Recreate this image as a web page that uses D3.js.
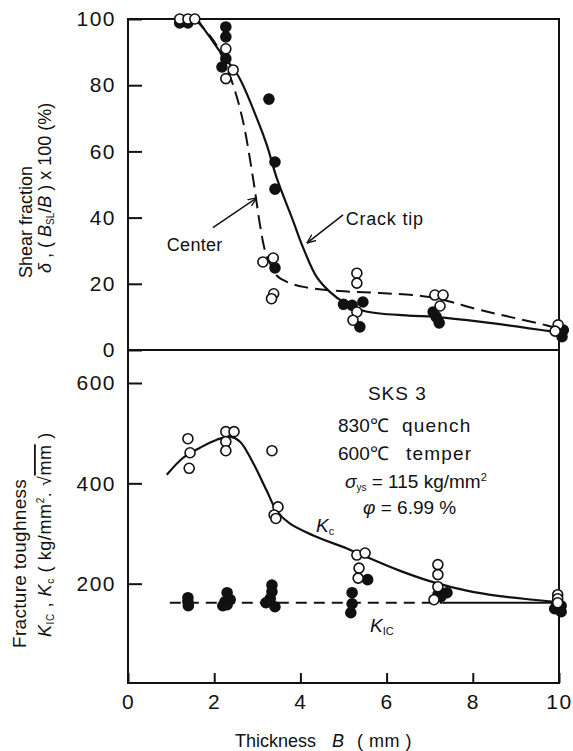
<!DOCTYPE html>
<html>
<head>
<meta charset="utf-8">
<script src="https://cdn.jsdelivr.net/npm/d3@7"></script>
<style>
  body { margin: 0; background: #fff; }
  svg { display: block; font-family: "Liberation Sans", Arial, sans-serif; }
  .tick text { font-size: 21px; letter-spacing: 1.5px; fill: #111; }
</style>
</head>
<body>
<svg id="chart" width="573" height="751"></svg>
<script>
// ---- data (thickness in mm) ----
const xTicks = [0, 2, 4, 6, 8, 10];
const shearTicks = [0, 20, 40, 60, 80, 100];
const toughTicks = [200, 400, 600];

// shear fraction, open circles (center) and filled circles (crack tip)
const centerPts = [[1.2, 100], [1.39, 100], [1.55, 100], [2.27, 91], [2.27, 82], [2.44, 84.6],
  [3.13, 26.6], [3.37, 27.8], [3.38, 17], [3.33, 15.5], [5.31, 23.2], [5.31, 20.2],
  [5.31, 11.5], [5.22, 9], [7.12, 16.6], [7.31, 16.6], [7.24, 13.3], [9.98, 7.6], [9.91, 5.7]];
const crackPts = [[1.2, 98.8], [1.39, 98.8], [2.27, 97.6], [2.27, 94.6], [2.27, 88], [2.18, 85.5],
  [3.27, 75.8], [3.41, 56.8], [3.41, 48.6], [3.41, 24.8], [5.0, 13.8], [5.2, 13.5], [5.45, 14.5],
  [5.38, 7], [7.08, 11.5], [7.15, 10], [7.22, 8.2], [10.1, 6], [10.07, 4]];

// hand-drawn trend curves
const centerCurve = [[1.55, 100], [1.9, 95], [2.1, 91], [2.44, 80], [2.67, 69], [2.9, 52], [3.06, 38],
  [3.18, 30], [3.3, 26], [3.45, 22.5], [3.7, 20.5], [4.1, 19], [4.9, 17.8], [5.85, 17.2], [7.0, 16],
  [8.2, 12], [9.7, 7.5], [10, 6.5]];
const crackCurve = [[1.6, 100], [1.9, 94.5], [2.2, 89], [2.55, 83], [2.99, 70], [3.22, 62], [3.45, 52],
  [3.83, 39], [4.06, 31], [4.38, 22], [4.69, 17.5], [5.0, 14.5], [5.5, 11.7], [6.5, 10.4], [7.1, 10],
  [8.2, 8.5], [9.9, 5.5]];

// fracture toughness: Kc open circles, KIc filled circles
const kcPts = [[1.39, 489], [1.44, 461], [1.42, 430], [2.27, 503], [2.46, 503], [2.27, 483], [2.27, 465],
  [3.34, 465], [3.48, 353], [3.39, 337], [3.43, 330], [5.31, 257], [5.5, 261], [5.36, 231],
  [5.34, 211], [7.19, 238], [7.19, 218], [7.19, 194], [7.1, 168], [9.97, 178], [9.97, 170], [9.97, 162]];
const kicPts = [[1.39, 172], [1.39, 164], [1.4, 156], [2.25, 164], [2.3, 182], [2.37, 168], [2.2, 156],
  [2.3, 158], [3.34, 197], [3.34, 184], [3.3, 170], [3.2, 162], [3.41, 154], [5.2, 182], [5.2, 160],
  [5.17, 142], [5.56, 208], [7.19, 178], [7.4, 182], [7.26, 174], [9.9, 150], [10.05, 156],
  [10.05, 144], [9.95, 160]];
const kcCurve = [[0.9, 417], [1.28, 451], [1.67, 471], [2.06, 487], [2.37, 493], [2.6, 483], [2.9, 441],
  [3.22, 385], [3.45, 345], [3.75, 320], [4.3, 296], [5.08, 270], [5.38, 259], [6.3, 226], [7.08, 203],
  [7.86, 186], [8.63, 175], [9.4, 168], [9.9, 164]];
const kicDashed = [[0.97, 162], [7.3, 162]];
const kicSolid = [[7.3, 162], [10, 162]];

// ---- layout ----
const svg = d3.select("#chart");
const x = d3.scaleLinear([0, 10], [128, 559]);
const yTop = d3.scaleLinear([0, 100], [350, 19]);
const yBot = d3.scaleLinear([0, 600], [684, 383]);
const ink = "#111";

const lineTop = d3.line().x(d => x(d[0])).y(d => yTop(d[1])).curve(d3.curveCatmullRom.alpha(0.5));
const lineBot = d3.line().x(d => x(d[0])).y(d => yBot(d[1])).curve(d3.curveCatmullRom.alpha(0.5));

// frame
svg.append("rect").attr("x", x(0)).attr("y", yTop(100)).attr("width", x(10) - x(0))
  .attr("height", yBot(0) - yTop(100) - 1).attr("fill", "none").attr("stroke", ink).attr("stroke-width", 2);
svg.append("line").attr("x1", x(0)).attr("x2", x(10)).attr("y1", yTop(0)).attr("y2", yTop(0))
  .attr("stroke", ink).attr("stroke-width", 2);

// axes
const gTop = svg.append("g").attr("transform", `translate(${x(0)},0)`)
  .call(d3.axisLeft(yTop).tickValues(shearTicks).tickSize(-14).tickPadding(12));
const gBot = svg.append("g").attr("transform", `translate(${x(0)},0)`)
  .call(d3.axisLeft(yBot).tickValues(toughTicks).tickSize(-14).tickPadding(12));
const gX = svg.append("g").attr("transform", `translate(0,${yBot(0) - 1})`)
  .call(d3.axisBottom(x).tickValues(xTicks).tickSize(-10).tickPadding(11));
[gTop, gBot, gX].forEach(g => {
  g.select(".domain").remove();
  g.selectAll(".tick line").attr("stroke", ink).attr("stroke-width", 2);
  g.selectAll(".tick text").attr("fill", ink);
});

// curves
svg.append("path").attr("d", lineTop(centerCurve)).attr("fill", "none").attr("stroke", ink)
  .attr("stroke-width", 2).attr("stroke-dasharray", "14,7");
svg.append("path").attr("d", lineTop(crackCurve)).attr("fill", "none").attr("stroke", ink)
  .attr("stroke-width", 2.2);
svg.append("path").attr("d", lineBot(kcCurve)).attr("fill", "none").attr("stroke", ink)
  .attr("stroke-width", 2.2);
svg.append("path").attr("d", lineBot(kicDashed)).attr("fill", "none").attr("stroke", ink)
  .attr("stroke-width", 2).attr("stroke-dasharray", "11,7");
svg.append("path").attr("d", lineBot(kicSolid)).attr("fill", "none").attr("stroke", ink)
  .attr("stroke-width", 2);

// markers: filled first, open on top
const dot = (data, yS, open) => svg.append("g").selectAll("circle").data(data).join("circle")
  .attr("cx", d => x(d[0])).attr("cy", d => yS(d[1])).attr("r", 5)
  .attr("fill", open ? "#fff" : ink).attr("stroke", ink).attr("stroke-width", 1.6);
dot(crackPts, yTop, false);
dot(centerPts, yTop, true);
dot(kicPts, yBot, false);
dot(kcPts, yBot, true);

// arrows
svg.append("defs").append("marker").attr("id", "arr").attr("viewBox", "0 0 10 10")
  .attr("refX", 10).attr("refY", 5).attr("markerWidth", 9).attr("markerHeight", 9)
  .attr("orient", "auto").attr("markerUnits", "userSpaceOnUse")
  .append("path").attr("d", "M0,1 L10,5 L0,9").attr("fill", "none").attr("stroke", ink).attr("stroke-width", 1.5);
const arrow = (a, b) => svg.append("line").attr("x1", x(a[0])).attr("y1", yTop(a[1]))
  .attr("x2", x(b[0])).attr("y2", yTop(b[1])).attr("stroke", ink).attr("stroke-width", 1.5)
  .attr("marker-end", "url(#arr)");
arrow([1.97, 37], [2.99, 46]);
arrow([4.99, 40.8], [4.15, 32.3]);

// text
const txt = (px, py, s, size = 18, anchor = "start") => svg.append("text").attr("x", px).attr("y", py)
  .attr("font-size", size).attr("fill", ink).attr("text-anchor", anchor).text(s);
txt(x(0.9), yTop(30), "Center").attr("letter-spacing", 0.3);
txt(x(5.05), yTop(37.8), "Crack tip").attr("letter-spacing", 0.8);

txt(x(6.25), 400, "SKS 3", 19, "middle").attr("letter-spacing", 1);
const ann = (py, a, b, bx) => {
  const t = svg.append("text").attr("y", py).attr("font-size", 19).attr("fill", ink);
  t.append("tspan").attr("x", 338).text(a);
  t.append("tspan").attr("x", bx).attr("letter-spacing", 1.2).text(b);
};
ann(432, "830℃", "quench", 402);
ann(460, "600℃", "temper", 406);
const sy = svg.append("text").attr("x", 345).attr("y", 488).attr("font-size", 19).attr("fill", ink);
sy.append("tspan").attr("font-style", "italic").text("σ");
sy.append("tspan").attr("font-size", 10).attr("dy", 3).text("ys");
sy.append("tspan").attr("dy", -3).text(" = 115 kg/mm");
sy.append("tspan").attr("font-size", 11).attr("dy", -7).text("2");
const ph = svg.append("text").attr("x", 363).attr("y", 514).attr("font-size", 19).attr("fill", ink);
ph.append("tspan").attr("font-style", "italic").text("φ");
ph.append("tspan").text(" = 6.99 %");

const kc = svg.append("text").attr("x", 316).attr("y", 532).attr("font-size", 19).attr("fill", ink);
kc.append("tspan").attr("font-style", "italic").text("K");
kc.append("tspan").attr("font-size", 11).attr("dy", 3).text("c");
const kic = svg.append("text").attr("x", 370).attr("y", 632).attr("font-size", 19).attr("fill", ink);
kic.append("tspan").attr("font-style", "italic").text("K");
kic.append("tspan").attr("font-size", 11).attr("dy", 3).text("IC");

// x title
const xt = svg.append("text").attr("y", 747).attr("font-size", 18).attr("fill", ink);
xt.append("tspan").attr("x", 235).text("Thickness");
xt.append("tspan").attr("x", 332).attr("font-style", "italic").text("B");
xt.append("tspan").attr("x", 357).attr("letter-spacing", 0.5).text("( mm )");

// y titles (rotated)
const rot = (px, py, size = 18) => svg.append("text").attr("transform", `translate(${px},${py}) rotate(-90)`)
  .attr("font-size", size).attr("fill", ink);
rot(32, 278).text("Shear fraction");
const t2 = rot(51, 273);
t2.append("tspan").attr("font-style", "italic").text("δ");
t2.append("tspan").text(" ,  ( ");
t2.append("tspan").attr("font-style", "italic").text("B");
t2.append("tspan").attr("font-size", 10).attr("dy", 3).text("SL");
t2.append("tspan").attr("dy", -3).text("/");
t2.append("tspan").attr("font-style", "italic").text("B");
t2.append("tspan").text(" ) x 100 (%)");
rot(26, 648, 19).attr("letter-spacing", 0.3).text("Fracture toughness");
const t4 = rot(51, 637).attr("letter-spacing", 0.6);
t4.append("tspan").attr("font-style", "italic").text("K");
t4.append("tspan").attr("font-size", 10).attr("dy", 3).text("IC");
t4.append("tspan").attr("dy", -3).text(" , ");
t4.append("tspan").attr("font-style", "italic").text("K");
t4.append("tspan").attr("font-size", 10).attr("dy", 3).text("c");
t4.append("tspan").attr("dy", -3).text("  ( kg/mm");
t4.append("tspan").attr("font-size", 10).attr("dy", -7).text("2");
t4.append("tspan").attr("dy", 7).text(". √");
t4.append("tspan").attr("text-decoration", "overline").text("mm");
t4.append("tspan").text(" )");
</script>
</body>
</html>
